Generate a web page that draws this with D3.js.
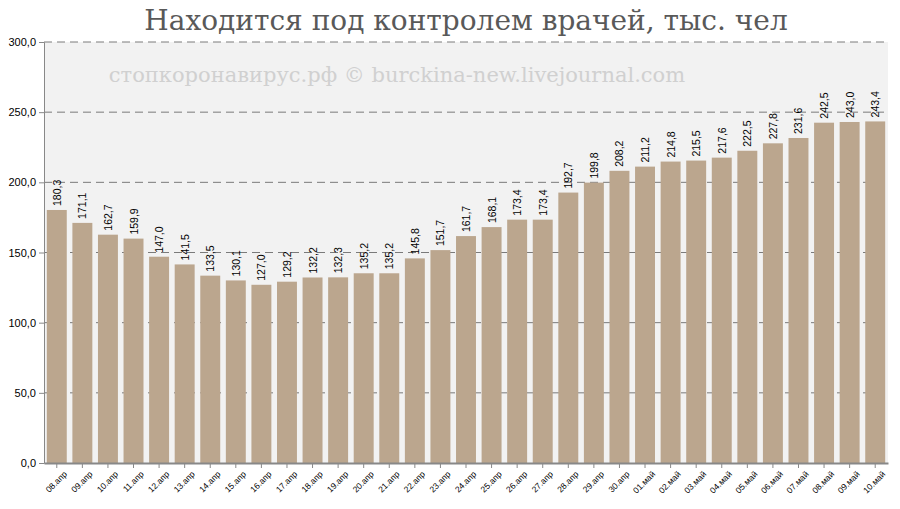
<!DOCTYPE html><html><head><meta charset="utf-8"><script src="https://cdn.jsdelivr.net/npm/d3@7"></script>
<style>body{margin:0;background:#fff}</style></head><body><svg id="c" width="900" height="509"></svg>
<script>
const categories=["08.апр","09.апр","10.апр","11.апр","12.апр","13.апр","14.апр","15.апр","16.апр","17.апр","18.апр","19.апр","20.апр","21.апр","22.апр","23.апр","24.апр","25.апр","26.апр","27.апр","28.апр","29.апр","30.апр","01.май","02.май","03.май","04.май","05.май","06.май","07.май","08.май","09.май","10.май"];
const values=[180.3,171.1,162.7,159.9,147.0,141.5,133.5,130.1,127.0,129.2,132.2,132.3,135.2,135.2,145.8,151.7,161.7,168.1,173.4,173.4,192.7,199.8,208.2,211.2,214.8,215.5,217.6,222.5,227.8,231.6,242.5,243.0,243.4];
const yTicks=[0,50,100,150,200,250,300];
const svg=d3.select("#c");
const L=44,R=888,T=42,B=463;
const x=d3.scaleBand().domain(categories).range([L,R]).paddingInner(0.22).paddingOuter(0.11);
const y=d3.scaleLinear().domain([0,300]).range([B,T]);
const fmt=v=>v.toFixed(1).replace(".",",");
svg.append("rect").attr("x",L).attr("y",T).attr("width",R-L).attr("height",B-T).attr("fill","#f2f2f2");
svg.selectAll(".g").data(yTicks.slice(1)).join("line").attr("x1",L).attr("x2",R).attr("y1",d=>y(d)).attr("y2",d=>y(d)).attr("stroke","#7a7a7a").attr("stroke-dasharray","8,5");
svg.append("text").attr("x",397).attr("y",82).attr("text-anchor","middle").attr("font-family","DejaVu Serif").attr("font-size",21).attr("fill","#d0d0d0").text("стопкоронавирус.рф © burckina-new.livejournal.com");
svg.selectAll(".b").data(values).join("rect").attr("x",(d,i)=>x(categories[i])).attr("width",x.bandwidth()).attr("y",d=>y(d)).attr("height",d=>B-y(d)).attr("fill","#bba68e");
svg.selectAll(".l").data(values).join("text").attr("transform",(d,i)=>`translate(${x(categories[i])+x.bandwidth()/2+4},${y(d)-4}) rotate(-90)`).attr("font-family","Liberation Sans, Arial").attr("font-size",10.5).attr("fill","#000").text(d=>fmt(d));
const ay=svg.append("g").attr("transform",`translate(${L},0)`).call(d3.axisLeft(y).tickValues(yTicks).tickFormat(fmt).tickSize(5));
ay.select(".domain").attr("stroke","#888");ay.selectAll("line").attr("stroke","#888");
ay.selectAll("text").attr("font-family","Liberation Sans, Arial").attr("font-size",11).attr("fill","#000");
const ax=svg.append("g").attr("transform",`translate(0,${B})`).call(d3.axisBottom(x).tickSize(5).tickSizeOuter(0));
ax.select(".domain").attr("stroke","#888").attr("stroke-width",2);ax.selectAll("line").attr("stroke","#888");
ax.selectAll("text").attr("font-family","Liberation Sans, Arial").attr("font-size",8.5).attr("fill","#000").attr("text-anchor","end").attr("transform","translate(3,4) rotate(-45)").attr("dy","0.35em");
svg.append("text").attr("x",466).attr("y",30).attr("text-anchor","middle").attr("font-family","DejaVu Serif").attr("font-size",28).attr("fill","#595959").text("Находится под контролем врачей, тыс. чел");
</script></body></html>
